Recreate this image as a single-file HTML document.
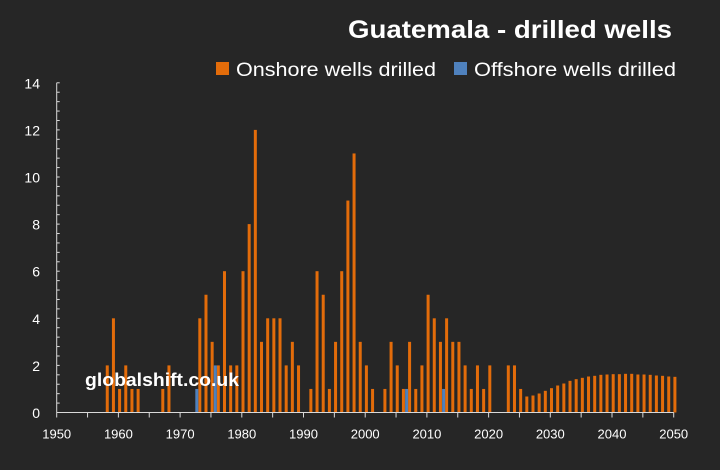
<!DOCTYPE html>
<html><head><meta charset="utf-8"><style>
html,body{margin:0;padding:0;background:#262626;}
svg{display:block;font-family:"Liberation Sans",sans-serif;}
</style></head><body>
<svg id="c" width="720" height="470" xmlns="http://www.w3.org/2000/svg">
<rect width="720" height="470" fill="#262626"/>
<text x="672" y="38" text-anchor="end" font-size="25" font-weight="bold" fill="#fff" textLength="324" lengthAdjust="spacingAndGlyphs">Guatemala - drilled wells</text>
<rect x="216" y="62" width="13" height="13" fill="#E36C0A"/>
<text x="236" y="76" font-size="19" fill="#fff" textLength="200" lengthAdjust="spacingAndGlyphs">Onshore wells drilled</text>
<rect x="454" y="62" width="13" height="13" fill="#4F81BD"/>
<text x="474" y="76" font-size="19" fill="#fff" textLength="202" lengthAdjust="spacingAndGlyphs">Offshore wells drilled</text>
<g id="g"></g>
</svg>
<script>
var g=document.getElementById('g'),s='';
var X0=56.7,PX=6.17,Y0=412.5,PY=23.55;
var on={1958:2,1959:4,1960:1,1961:2,1962:1,1963:1,1967:1,1968:2,1973:4,1974:5,1975:3,1976:2,1977:6,1978:2,1979:2,1980:6,1981:8,1982:12,1983:3,1984:4,1985:4,1986:4,1987:2,1988:3,1989:2,1991:1,1992:6,1993:5,1994:1,1995:3,1996:6,1997:9,1998:11,1999:3,2000:2,2001:1,2003:1,2004:3,2005:2,2006:1,2007:3,2008:1,2009:2,2010:5,2011:4,2012:3,2013:4,2014:3,2015:3,2016:2,2017:1,2018:2,2019:1,2020:2,2023:2,2024:2,2025:1};
var hs=[378,375,369,361,353,345,339,331,326,322,318,316,313,312,311,311,310,310,312,312,313,315,316,318,319];
for(var i=0;i<hs.length;i++)on[2026+i]=(426-hs[i])/3/PY;
var off={1973:1,1976:2,2007:1,2013:1};
for(var y in on){var x=X0+(y-1950)*PX-0.3,h=on[y]*PY;s+='<rect x="'+x.toFixed(2)+'" y="'+(Y0-h).toFixed(2)+'" width="3" height="'+h.toFixed(2)+'" fill="#E36C0A"/>';}
for(var y in off){var x=X0+(y-1950)*PX-3.3,h=off[y]*PY;s+='<rect x="'+x.toFixed(2)+'" y="'+(Y0-h).toFixed(2)+'" width="3" height="'+h.toFixed(2)+'" fill="#4F81BD"/>';}
s+='<line x1="'+X0+'" y1="'+(Y0-14*PY)+'" x2="'+X0+'" y2="'+Y0+'" stroke="#d9d9d9" stroke-width="1"/>';
s+='<line x1="'+X0+'" y1="'+Y0+'" x2="'+(X0+100*PX)+'" y2="'+Y0+'" stroke="#d9d9d9" stroke-width="1"/>';
for(var v=0;v<=14.001;v+=0.4){var yy=Y0-v*PY;s+='<line x1="'+X0+'" x2="'+(X0+3)+'" y1="'+yy.toFixed(2)+'" y2="'+yy.toFixed(2)+'" stroke="#d9d9d9"/>';}
for(var v=0;v<=14;v+=2){s+='<text x="40" y="'+(Y0-v*PY+5.5)+'" text-anchor="end" font-size="14" fill="#fff">'+v+'</text>';}
for(var y=1950;y<=2050;y+=5){var x=X0+(y-1950)*PX;s+='<line x1="'+x+'" x2="'+x+'" y1="'+Y0+'" y2="'+(Y0+5)+'" stroke="#d9d9d9"/>';if(y%10==0)s+='<text x="'+x+'" y="'+(Y0+26)+'" text-anchor="middle" font-size="13" fill="#fff">'+y+'</text>';}
s+='<text x="85" y="386" font-size="18" font-weight="bold" fill="#fff" textLength="154" lengthAdjust="spacingAndGlyphs">globalshift.co.uk</text>';
g.innerHTML=s;
</script>
</body></html>
